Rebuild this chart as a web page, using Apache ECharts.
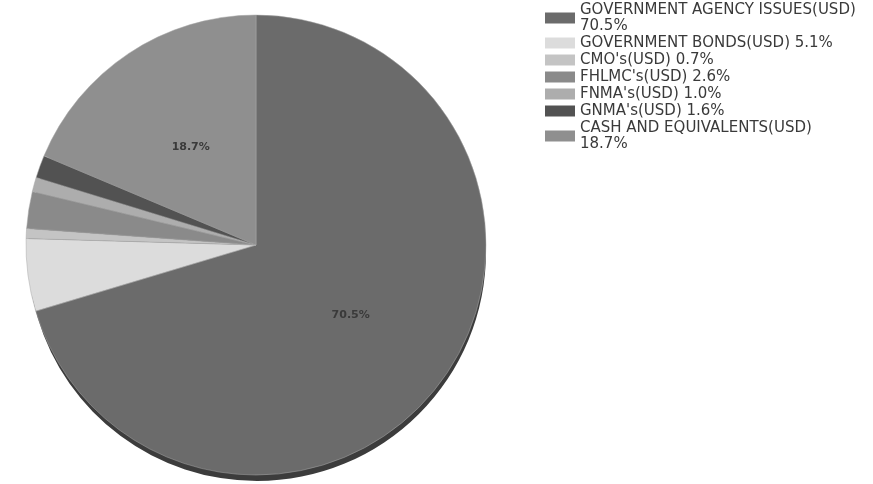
<!DOCTYPE html>
<html>
<head>
<meta charset="utf-8">
<script src="https://cdn.jsdelivr.net/npm/echarts@6/dist/echarts.min.js"></script>
<style>html,body{margin:0;padding:0;background:#fff;}#c{width:873px;height:484px;}</style>
</head>
<body>
<div id="c"></div>
<script>
const categories = ["GOVERNMENT AGENCY ISSUES(USD)", "GOVERNMENT BONDS(USD)", "CMO's(USD)", "FHLMC's(USD)", "FNMA's(USD)", "GNMA's(USD)", "CASH AND EQUIVALENTS(USD)"];
const values = [70.5, 5.1, 0.7, 2.6, 1.0, 1.6, 18.7];
const colors = ["#6b6b6b", "#dcdcdc", "#c4c4c4", "#8a8a8a", "#adadad", "#525252", "#8f8f8f"];
const showLabel = [true, false, false, false, false, false, true];

const chart = echarts.init(document.getElementById('c'), null, {renderer: 'canvas'});
const data = categories.map((n, i) => ({
  name: n, value: values[i],
  itemStyle: {color: colors[i]},
  label: {show: showLabel[i]}
}));
const rimData = categories.map((n, i) => ({name: n, value: values[i]}));
chart.setOption({
  animation: false,
  backgroundColor: '#fff',
  legend: {
    orient: 'vertical',
    left: 540, top: -3,
    itemWidth: 30, itemHeight: 11, itemGap: 1,
    icon: 'rect',
    selectedMode: false,
    itemStyle: {borderWidth: 0},
    textStyle: {fontFamily: 'DejaVu Sans', fontSize: 15, color: '#3a3a3a', lineHeight: 16, padding: [0,0,0,0]},
    formatter: function (name) {
      const i = categories.indexOf(name);
      const t = values[i].toFixed(1) + '%';
      return name.length > 24 ? name + '\n' + t : name + ' ' + t;
    },
    data: categories.map((n, i) => ({name: n, itemStyle: {color: colors[i], borderWidth: 0}}))
  },
  series: [{
    type: 'pie',
    z: 2,
    center: [256, 245],
    radius: 230,
    startAngle: 90,
    clockwise: true,
    data: data,
    label: {
      position: 'inside',
      formatter: function (p) { return p.value.toFixed(1) + '%'; },
      fontFamily: 'DejaVu Sans', fontSize: 11, fontWeight: 'bold', color: '#3a3a3a'
    },
    labelLine: {show: false},
    itemStyle: {borderColor: '#a8a8a8', borderWidth: 0.5},
    emphasis: {disabled: true}
  }, {
    type: 'pie',
    z: 1,
    silent: true,
    center: [257, 252],
    radius: 229,
    startAngle: 90,
    clockwise: true,
    data: rimData,
    label: {show: false},
    labelLine: {show: false},
    itemStyle: {color: '#3c3c3c', borderWidth: 0},
    emphasis: {disabled: true},
    legendHoverLink: false
  }]
});
</script>
</body>
</html>
